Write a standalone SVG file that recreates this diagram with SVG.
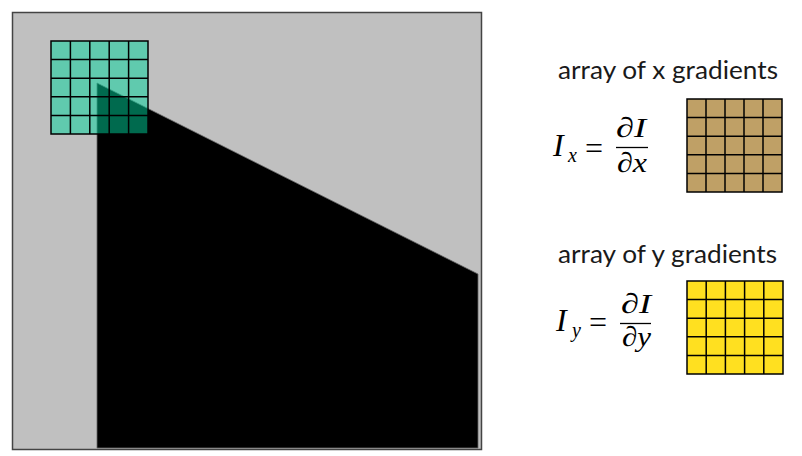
<svg xmlns="http://www.w3.org/2000/svg" width="802" height="456" viewBox="0 0 802 456">
<style>
.grid{stroke:#000;stroke-width:1.5;fill:none}
.lbl{font-family:Lato,"Open Sans","Liberation Sans",sans-serif;font-size:25px;fill:#1a1a1a}
.math{font-family:"Liberation Serif","DejaVu Serif",serif;font-style:italic;fill:#000}
.mup{font-family:"Liberation Serif","DejaVu Serif",serif;fill:#000}
</style>
<rect width="802" height="456" fill="#fff"/>
<g id="image">
<rect x="12.5" y="12.5" width="469" height="437" fill="#c0c0c0" stroke="#444" stroke-width="1.5"/>
<polygon points="97,83 478,274 478,448 97,448" fill="#000" stroke="#666" stroke-width="0.8" stroke-linejoin="round"/>
</g>
<g id="window">
<rect x="51" y="41" width="97" height="93" fill="#00d49c" fill-opacity="0.5"/>
<path class="grid" d="M51,41H148V134H51Z M70.4,41V134 M89.8,41V134 M109.2,41V134 M128.6,41V134 M51,59.6H148 M51,78.2H148 M51,96.8H148 M51,115.4H148"/>
</g>
<g id="x-gradients">
<text class="lbl" x="558" y="79" textLength="220" lengthAdjust="spacingAndGlyphs">array of x gradients</text>
<text class="math" x="553" y="156" font-size="32">I</text>
<text class="math" x="568" y="162" font-size="20">x</text>
<text class="mup" x="585" y="159" font-size="32">=</text>
<text class="math" x="616" y="137" font-size="28" textLength="30" lengthAdjust="spacingAndGlyphs">∂I</text>
<line x1="616" y1="147.5" x2="648" y2="147.5" stroke="#000" stroke-width="1.3"/>
<text class="math" x="617" y="172" font-size="28" textLength="30" lengthAdjust="spacingAndGlyphs">∂x</text>
<rect x="687" y="99" width="95" height="93" fill="#bfa066"/>
<path class="grid" d="M687,99H782V192H687Z M706,99V192 M725,99V192 M744,99V192 M763,99V192 M687,117.6H782 M687,136.2H782 M687,154.8H782 M687,173.4H782"/>
</g>
<g id="y-gradients">
<text class="lbl" x="558" y="263" textLength="219" lengthAdjust="spacingAndGlyphs">array of y gradients</text>
<text class="math" x="556" y="331" font-size="32">I</text>
<text class="math" x="572" y="337" font-size="20">y</text>
<text class="mup" x="589" y="333" font-size="32">=</text>
<text class="math" x="621" y="313" font-size="28" textLength="30" lengthAdjust="spacingAndGlyphs">∂I</text>
<line x1="620" y1="323.5" x2="651" y2="323.5" stroke="#000" stroke-width="1.3"/>
<text class="math" x="622" y="346" font-size="28" textLength="29" lengthAdjust="spacingAndGlyphs">∂y</text>
<rect x="687" y="281" width="96" height="93" fill="#ffe020"/>
<path class="grid" d="M687,281H783V374H687Z M706.2,281V374 M725.4,281V374 M744.6,281V374 M763.8,281V374 M687,299.6H783 M687,318.2H783 M687,336.8H783 M687,355.4H783"/>
</g>
<g id="connectors"/>
</svg>
